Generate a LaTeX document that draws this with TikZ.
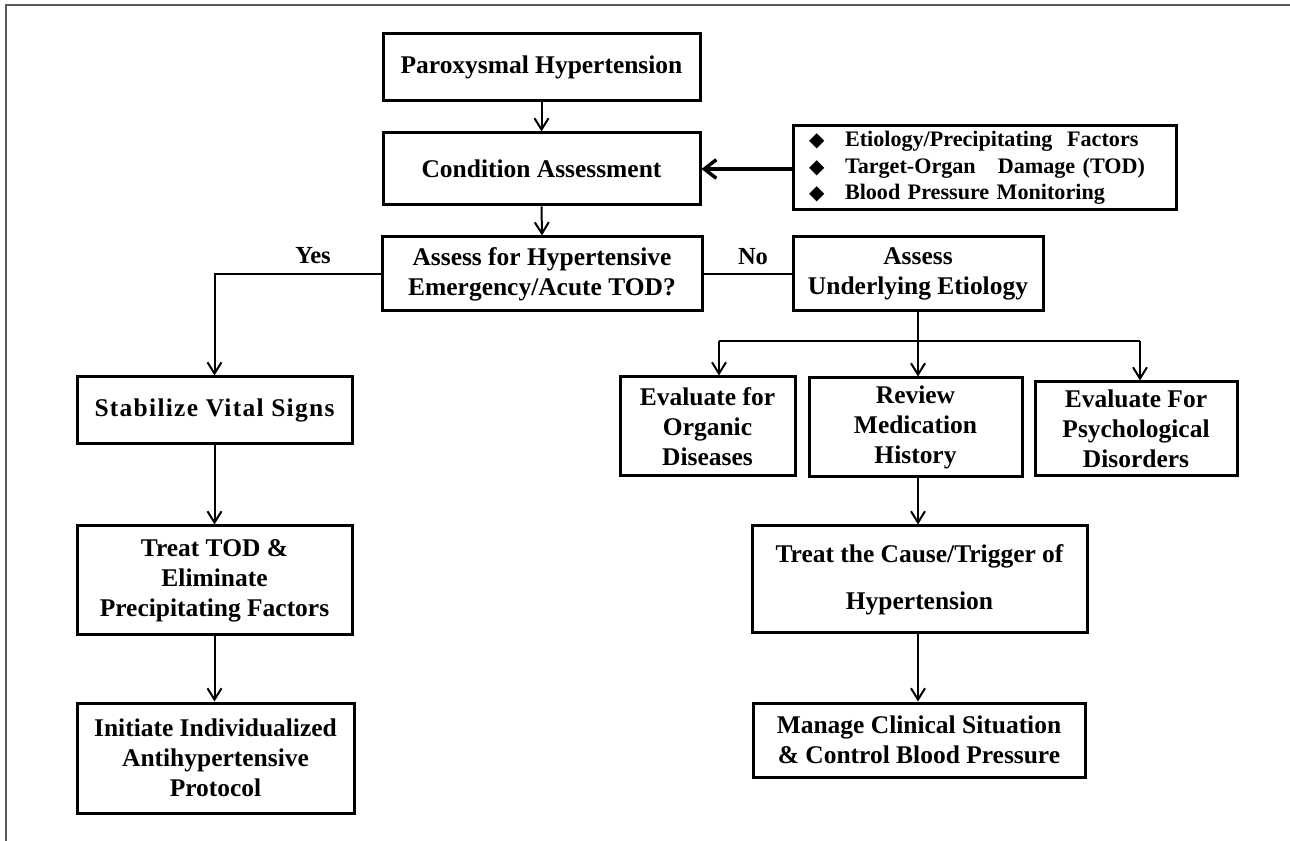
\documentclass[tikz,border=0pt]{standalone}
\usepackage{fontspec}
\setmainfont{Liberation Serif}
\newfontfamily\dejavu{DejaVu Sans}
\usetikzlibrary{arrows.meta}
\tikzset{
  box/.style={draw, line width=2.25pt, inner sep=0pt, align=center,
    font=\fontsize{19.1}{22.5}\selectfont\bfseries},
  conn/.style={line width=1.5pt},
  arr/.style={line width=1.5pt, -{Straight Barb[length=8.5pt,width=10.5pt,line width=1.5pt]}},
  bigarr/.style={line width=3pt, -{Straight Barb[length=9pt,width=14pt,line width=2.6pt]}},
  lbl/.style={inner sep=0pt, font=\fontsize{18.4}{22}\selectfont\bfseries},
}
\newcommand{\dmd}{\makebox[27pt][l]{\dejavu\fontsize{15}{15}\selectfont ◆}}
\begin{document}
\begin{tikzpicture}[x=0.75pt,y=-0.75pt]
\useasboundingbox (0,0) rectangle (1290,841);
\draw[line width=1.1pt, color=black!65] (1290,5) -- (6,5) -- (6,841);

\node[box, minimum width=237.75pt, minimum height=50.25pt] (par) at (541.5,67.5) {Paroxysmal Hypertension};
\node[box, minimum width=237.75pt, minimum height=54pt] (cond) at (541.5,169) {Condition Assessment};
\node[box, minimum width=287.25pt, minimum height=63pt, inner xsep=12pt, text width=263.25pt, align=left,
  font=\fontsize{16.6}{20}\selectfont\bfseries] (list) at (984.5,168)
  {\dmd Etiology/Precipitating\ \ Factors\\ \dmd Target-Organ\ \ \ Damage (TOD)\\ \dmd Blood Pressure Monitoring};
\node[box, minimum width=240pt, minimum height=55.5pt] (hyp) at (542,274) {Assess for Hypertensive\\Emergency/Acute TOD?};
\node[box, minimum width=187.5pt, minimum height=55.5pt] (und) at (918,274) {Assess\\Underlying Etiology};
\node[box, minimum width=206.25pt, minimum height=50.25pt] (stab) at (214.5,410.5) {\addfontfeature{LetterSpace=5}Stabilize Vital Signs};
\node[box, minimum width=206.25pt, minimum height=81.75pt] (ttod) at (214.5,580.5) {Treat TOD \&\\Eliminate\\Precipitating Factors};
\node[box, minimum width=207.75pt, minimum height=82.5pt] (init) at (215.5,758) {Initiate Individualized\\Antihypertensive\\Protocol};
\node[box, minimum width=131.25pt, minimum height=74.25pt] (org) at (707.5,426.5) {Evaluate for\\Organic\\Diseases};
\node[box, minimum width=159.75pt, minimum height=74.25pt] (rev) at (915.5,427.5) {Review\\Medication\\History};
\node[box, minimum width=151.5pt, minimum height=70.5pt] (psy) at (1136,429) {Evaluate For\\Psychological\\Disorders};
\node[box, minimum width=251.25pt, minimum height=80.25pt, font=\fontsize{19.1}{35.25}\selectfont\bfseries] (tc) at (919.5,579.5) {Treat the Cause/Trigger of\\Hypertension};
\node[box, minimum width=249pt, minimum height=55.5pt] (man) at (919,740) {Manage Clinical Situation\\\& Control Blood Pressure};

\node[lbl] (yes) at (313,256) {Yes};
\node[lbl] (no) at (753,257) {No};

\coordinate (j) at (918,341);
\coordinate (jl) at (719,341);
\coordinate (jr) at (1140,341);

\draw[arr] (par.south) -- (cond.north);
\draw[arr] (cond.south) -- (hyp.north);
\draw[bigarr] (list.west |- cond.east) -- (cond.east);
\draw[arr] (hyp.west) -| (stab.north);
\draw[conn] (hyp.east) -- (und.west);
\draw[conn] (und.south) -- (j);
\draw[conn] (jl) -- (jr);
\draw[arr] (jl) -- (jl |- org.north);
\draw[arr] (j) -- (j |- rev.north);
\draw[arr] (jr) -- (jr |- psy.north);
\draw[arr] (stab.south) -- (stab.south |- ttod.north);
\draw[arr] (ttod.south) -- (ttod.south |- init.north);
\draw[arr] (j |- rev.south) -- (j |- tc.north);
\draw[arr] (j |- tc.south) -- (j |- man.north);
\end{tikzpicture}
\end{document}
